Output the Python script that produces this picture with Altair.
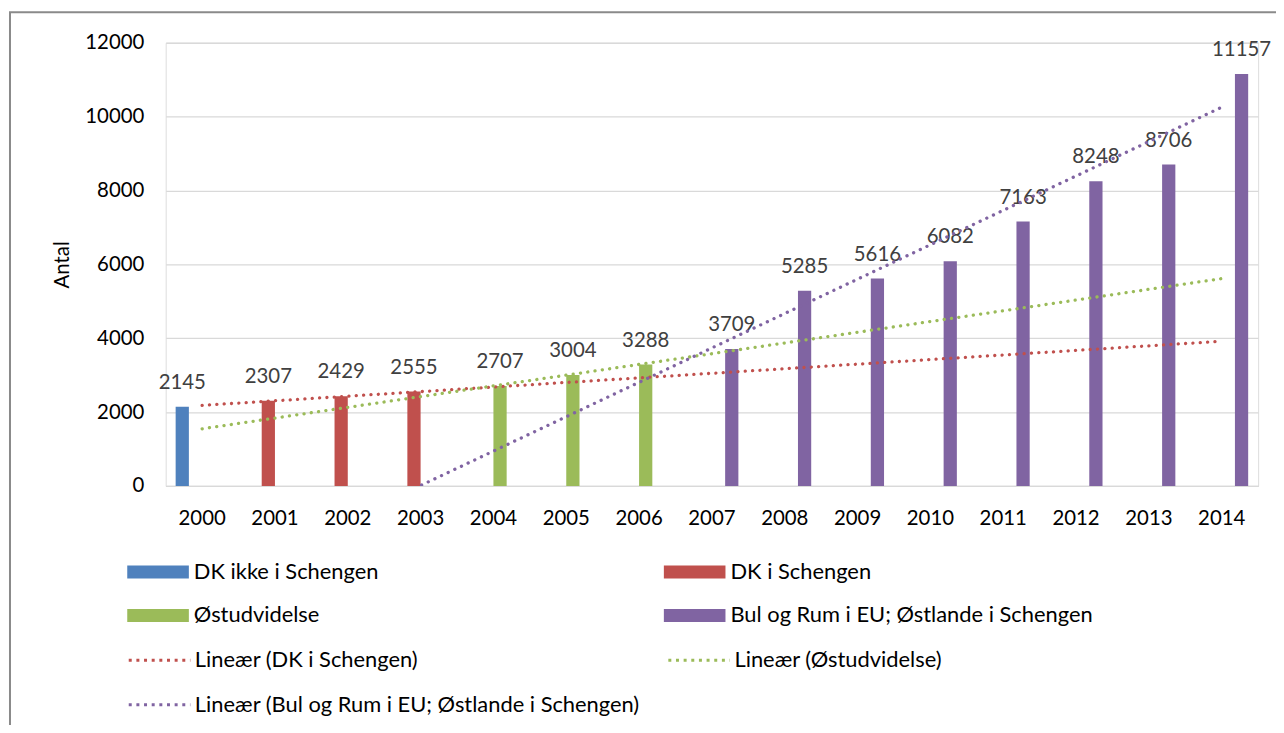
import altair as alt
import pandas as pd

# ---- data ----
years = [2000, 2001, 2002, 2003, 2004, 2005, 2006, 2007, 2008, 2009, 2010, 2011, 2012, 2013, 2014]
values = [2145, 2307, 2429, 2555, 2707, 3004, 3288, 3709, 5285, 5616, 6082, 7163, 8248, 8706, 11157]
period = [
    "DK ikke i Schengen",
    "DK i Schengen", "DK i Schengen", "DK i Schengen",
    "Østudvidelse", "Østudvidelse", "Østudvidelse",
    "Bul og Rum i EU; Østlande i Schengen", "Bul og Rum i EU; Østlande i Schengen",
    "Bul og Rum i EU; Østlande i Schengen", "Bul og Rum i EU; Østlande i Schengen",
    "Bul og Rum i EU; Østlande i Schengen", "Bul og Rum i EU; Østlande i Schengen",
    "Bul og Rum i EU; Østlande i Schengen", "Bul og Rum i EU; Østlande i Schengen",
]
series_names = ["DK ikke i Schengen", "DK i Schengen", "Østudvidelse",
                "Bul og Rum i EU; Østlande i Schengen"]
series_colors = ["#4F81BD", "#C0504D", "#9BBB59", "#8064A2"]
trend_names = ["Lineær (DK i Schengen)", "Lineær (Østudvidelse)",
               "Lineær (Bul og Rum i EU; Østlande i Schengen)"]
trend_colors = ["#C0504D", "#9BBB59", "#8064A2"]

df = pd.DataFrame({"year": years, "value": values, "series": period})

FONT = "Lato"
FS = 20.5
LFS = 22
W, H = 1099.3, 446

y_axis = alt.Axis(tickCount=6, format="d", labelFont=FONT, labelFontSize=FS,
                  labelColor="black", labelPadding=22, ticks=False, domain=False,
                  gridColor="#d9d9d9", gridWidth=1.3, title="Antal",
                  titleFont=FONT, titleFontSize=FS, titleFontWeight="normal",
                  titleColor="black", titlePadding=12)
Y = alt.Y("value:Q", scale=alt.Scale(domain=[0, 12000], nice=False), axis=y_axis)

X = alt.X("year:O", scale=alt.Scale(type="band", paddingInner=0.273, paddingOuter=0.1365),
          axis=alt.Axis(labelAngle=0, ticks=False, domainColor="#d9d9d9", domainWidth=1.3,
                        labelFont=FONT, labelFontSize=FS, labelColor="black",
                        labelPadding=23, title=None))
XO = alt.XOffset("series:N", scale=alt.Scale(domain=series_names, paddingInner=0, paddingOuter=0))

bars = alt.Chart(df).mark_bar().encode(
    x=X, xOffset=XO, y=Y,
    fill=alt.Fill("series:N", scale=alt.Scale(domain=series_names, range=series_colors),
                  legend=alt.Legend(title=None, orient="none", direction="horizontal",
                                    legendX=-38.7, legendY=516.8,
                                    columns=2, columnPadding=287, rowPadding=17,
                                    symbolType="M-1,-0.42H3V0.42H-1Z", symbolSize=961,
                                    symbolStrokeWidth=0, labelFont=FONT, labelFontSize=LFS,
                                    labelColor="black", labelLimit=700, labelOffset=36,
                                    padding=0)),
)

labels = alt.Chart(df).mark_text(font=FONT, fontSize=FS, color="#404040",
                                 baseline="alphabetic", dy=-18).encode(
    x=X, xOffset=XO, y=Y, text=alt.Text("value:Q", format="d"),
)

trend = alt.Chart(df).transform_filter(
    alt.datum.series != series_names[0]
).transform_regression(
    "year", "value", groupby=["series"], extent=[years[0], years[-1]]
).transform_calculate(
    trend="'Lineær (' + datum.series + ')'"
).mark_line(clip=True, strokeWidth=3.3, strokeCap="round", strokeDash=[0.1, 7.3]).encode(
    x=alt.X("year:Q", scale=alt.Scale(domain=[years[0] - 0.5, years[-1] + 0.5], nice=False, zero=False),
            axis=None),
    y=Y,
    stroke=alt.Stroke("trend:N", scale=alt.Scale(domain=trend_names, range=trend_colors),
                      legend=alt.Legend(title=None, orient="none", direction="horizontal",
                                        legendX=-38.7, legendY=604.3,
                                        columns=2, columnPadding=22, rowPadding=17,
                                        symbolType="M-1,0H3", symbolSize=961,
                                        symbolStrokeWidth=3, symbolDash=[3, 4.7],
                                        labelFont=FONT, labelFontSize=LFS, labelColor="black",
                                        labelLimit=700, labelOffset=34, padding=0)),
)

frame = alt.Chart(alt.Data(values=[{"k": 1}])).mark_rect(
    fillOpacity=0, stroke="#8a8a8a", strokeWidth=2
).encode(
    x=alt.value(-156.7), x2=alt.value(1300), y=alt.value(-30.7), y2=alt.value(900)
)

main = alt.layer(bars, labels)
chart = alt.layer(frame, main, trend).resolve_scale(x="independent").properties(
    width=W, height=H,
    autosize=alt.AutoSizeParams(type="none"),
    padding={"left": 158.7, "top": 32.7, "right": 18, "bottom": 238.3},
).configure_view(stroke=None).configure(background="white")

chart.save("out.html", embed_options={"renderer": "svg", "actions": False})
